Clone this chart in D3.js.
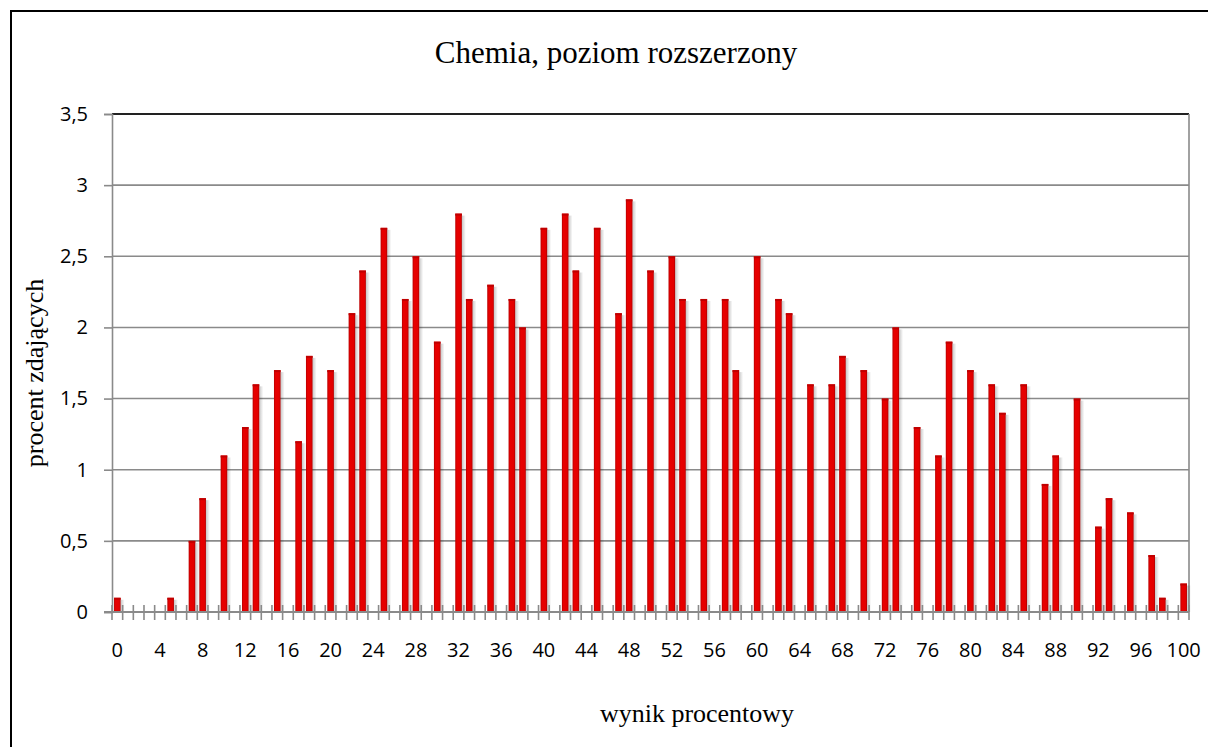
<!DOCTYPE html>
<html>
<head>
<meta charset="utf-8">
<script src="https://cdn.jsdelivr.net/npm/d3@7"></script>
<style>
  body { margin: 0; background: #fff; }
  svg { display: block; }
</style>
</head>
<body>
<svg id="chart" width="1208" height="747"></svg>
<script>
// wynik procentowy 0..100
var scores = d3.range(0, 101);
var percents = [
  0.1, 0, 0, 0, 0, 0.1, 0, 0.5, 0.8, 0,
  1.1, 0, 1.3, 1.6, 0, 1.7, 0, 1.2, 1.8, 0,
  1.7, 0, 2.1, 2.4, 0, 2.7, 0, 2.2, 2.5, 0,
  1.9, 0, 2.8, 2.2, 0, 2.3, 0, 2.2, 2.0, 0,
  2.7, 0, 2.8, 2.4, 0, 2.7, 0, 2.1, 2.9, 0,
  2.4, 0, 2.5, 2.2, 0, 2.2, 0, 2.2, 1.7, 0,
  2.5, 0, 2.2, 2.1, 0, 1.6, 0, 1.6, 1.8, 0,
  1.7, 0, 1.5, 2.0, 0, 1.3, 0, 1.1, 1.9, 0,
  1.7, 0, 1.6, 1.4, 0, 1.6, 0, 0.9, 1.1, 0,
  1.5, 0, 0.6, 0.8, 0, 0.7, 0, 0.4, 0.1, 0,
  0.2
];
var xTickLabels = d3.range(0, 101, 4);
var yTicks = [0, 0.5, 1, 1.5, 2, 2.5, 3, 3.5];

var title = "Chemia, poziom rozszerzony";
var xTitle = "wynik procentowy";
var yTitle = "procent zdających";

var data = scores.map(function (s, i) {
  return { score: s, value: percents[i] };
});

var svg = d3.select("#chart");
var plotLeft = 112, plotRight = 1189, plotTop = 114, plotBottom = 612;
var sans = "'Open Sans', 'Liberation Sans', sans-serif";
var serif = "'Liberation Serif', 'Times New Roman', serif";

var x = d3.scaleBand().domain(scores).range([plotLeft, plotRight]).paddingInner(0.38).paddingOuter(0.19);
var y = d3.scaleLinear().domain([0, 3.5]).range([plotBottom, plotTop]);
var fmt = function (d) { return String(d).replace(".", ","); };

var defs = svg.append("defs");
var barGrad = defs.append("linearGradient").attr("id", "barGrad");
barGrad.append("stop").attr("offset", "0%").attr("stop-color", "#b80000");
barGrad.append("stop").attr("offset", "25%").attr("stop-color", "#e80000");
barGrad.append("stop").attr("offset", "80%").attr("stop-color", "#e20000");
barGrad.append("stop").attr("offset", "100%").attr("stop-color", "#a80000");
var shGrad = defs.append("linearGradient").attr("id", "shGrad");
shGrad.append("stop").attr("offset", "0%").attr("stop-color", "#000").attr("stop-opacity", 0.22);
shGrad.append("stop").attr("offset", "100%").attr("stop-color", "#000").attr("stop-opacity", 0);

// outer frame (only top and left visible)
svg.append("path")
  .attr("d", "M11,747 V11 H1208")
  .attr("fill", "none")
  .attr("stroke", "#000")
  .attr("stroke-width", 2);

// title
svg.append("text")
  .attr("x", 616).attr("y", 63)
  .attr("text-anchor", "middle")
  .attr("font-family", serif)
  .attr("font-size", 31)
  .text(title);

// gridlines
svg.append("g").selectAll("line")
  .data(yTicks.slice(1))
  .join("line")
  .attr("x1", plotLeft).attr("x2", plotRight)
  .attr("y1", function (d) { return y(d); })
  .attr("y2", function (d) { return y(d); })
  .attr("stroke", function (d) { return d === 3.5 ? "#222" : "#8a8a8a"; })
  .attr("stroke-width", function (d) { return d === 3.5 ? 2 : 1.6; });

// right plot border
svg.append("line")
  .attr("x1", plotRight).attr("x2", plotRight)
  .attr("y1", plotTop).attr("y2", plotBottom)
  .attr("stroke", "#8a8a8a").attr("stroke-width", 1.6);

// bars with soft shadow
var bars = svg.append("g").selectAll("g")
  .data(data.filter(function (d) { return d.value > 0; }))
  .join("g");

bars.append("rect")
  .attr("x", function (d) { return x(d.score) + x.bandwidth(); })
  .attr("y", function (d) { return y(d.value) + 2; })
  .attr("width", 4)
  .attr("height", function (d) { return plotBottom - y(d.value) - 2; })
  .attr("fill", "url(#shGrad)");

bars.append("rect")
  .attr("x", function (d) { return x(d.score); })
  .attr("y", function (d) { return y(d.value); })
  .attr("width", x.bandwidth())
  .attr("height", function (d) { return plotBottom - y(d.value); })
  .attr("fill", "url(#barGrad)");

bars.append("rect")
  .attr("x", function (d) { return x(d.score); })
  .attr("y", function (d) { return y(d.value); })
  .attr("width", x.bandwidth())
  .attr("height", 2)
  .attr("fill", "#c00000");

// y axis
var yAxis = svg.append("g")
  .attr("transform", "translate(" + plotLeft + ",0)")
  .call(d3.axisLeft(y).tickValues(yTicks).tickFormat(fmt).tickSize(8).tickPadding(16));
yAxis.select(".domain").attr("stroke", "#8a8a8a").attr("stroke-width", 1.6);
yAxis.selectAll(".tick line").attr("stroke", "#8a8a8a").attr("stroke-width", 1.6);
yAxis.selectAll(".tick text")
  .attr("font-family", sans)
  .attr("font-size", 20)
  .attr("fill", "#000");

// x axis line and ticks at category boundaries
var bounds = scores.map(function (s) { return x(s) - x.step() * x.paddingInner() / 2; });
bounds.push(plotRight);
svg.append("line")
  .attr("x1", plotLeft - 8).attr("x2", plotRight)
  .attr("y1", plotBottom).attr("y2", plotBottom)
  .attr("stroke", "#8a8a8a").attr("stroke-width", 2);
svg.append("g").selectAll("line")
  .data(bounds)
  .join("line")
  .attr("x1", function (d) { return d; })
  .attr("x2", function (d) { return d; })
  .attr("y1", plotBottom - 7).attr("y2", plotBottom + 8)
  .attr("stroke", "#8a8a8a").attr("stroke-width", 1.6);

svg.append("g").selectAll("text")
  .data(xTickLabels)
  .join("text")
  .attr("x", function (d) { return x(d) + x.bandwidth() / 2; })
  .attr("y", 657)
  .attr("text-anchor", "middle")
  .attr("font-family", sans)
  .attr("font-size", 20)
  .text(function (d) { return d; });

// axis titles
svg.append("text")
  .attr("x", 697).attr("y", 722)
  .attr("text-anchor", "middle")
  .attr("font-family", serif)
  .attr("font-size", 26)
  .text(xTitle);

svg.append("text")
  .attr("transform", "translate(43,373) rotate(-90)")
  .attr("text-anchor", "middle")
  .attr("font-family", serif)
  .attr("font-size", 26)
  .text(yTitle);
</script>
</body>
</html>
